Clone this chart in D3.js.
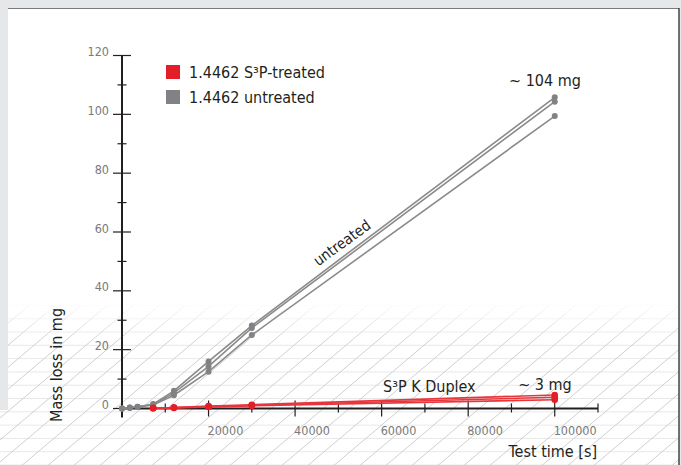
<!DOCTYPE html>
<html>
<head>
<meta charset="utf-8">
<script src="https://cdn.jsdelivr.net/npm/d3@7"></script>
<style>
  body { margin: 0; background: #e6e7e8; }
  svg { display: block; }
  text { font-family: "Liberation Sans Narrow", "DejaVu Sans Condensed", "Roboto Condensed", sans-serif; font-stretch: condensed; }
</style>
</head>
<body>
<div id="chart"></div>
<script>
// test times in seconds
const timesUntreated = [0, 1800, 3600, 7200, 12000, 20000, 30000, 100000];
const timesTreated = [7200, 12000, 20000, 30000, 100000];

// mass loss in mg, three samples each
const untreated = [
  [0, 0.3, 0.6, 1.5, 6.0, 16.0, 28.2, 105.8],
  [0, 0.3, 0.6, 1.3, 5.3, 14.3, 27.4, 104.3],
  [0, 0.2, 0.5, 1.2, 4.5, 12.5, 25.0, 99.4]
];
const treated = [
  [0.2, 0.3, 0.8, 1.3, 4.6],
  [0.1, 0.3, 0.6, 1.1, 3.8],
  [0.1, 0.2, 0.5, 0.9, 3.0]
];

const xTickLabels = [20000, 40000, 60000, 80000, 100000];
const yTickLabels = [0, 20, 40, 60, 80, 100, 120];
const legendItems = [
  { label: '1.4462 S³P-treated', color: '#e41e26' },
  { label: '1.4462 untreated', color: '#808285' }
];

const W = 681, H = 465;
const svg = d3.select('#chart').append('svg')
  .attr('width', W).attr('height', H);

const defs = svg.append('defs');

// hatch pattern for the lower part of the panel
const pat = defs.append('pattern')
  .attr('id', 'hatch')
  .attr('patternUnits', 'userSpaceOnUse')
  .attr('width', 26).attr('height', 13.3);
pat.append('line')
  .attr('x1', 0).attr('y1', 13.3).attr('x2', 26).attr('y2', 13.3)
  .attr('stroke', '#d2d2d2').attr('stroke-width', 1);
const diag = defs.append('pattern')
  .attr('id', 'diag')
  .attr('patternUnits', 'userSpaceOnUse')
  .attr('width', 26).attr('height', 22);
diag.append('line')
  .attr('x1', -1).attr('y1', 22.85).attr('x2', 27).attr('y2', -0.85)
  .attr('stroke', '#cfcfcf').attr('stroke-width', 1);

const fade = defs.append('linearGradient')
  .attr('id', 'fade').attr('x1', 0).attr('y1', 0).attr('x2', 0).attr('y2', 1);
fade.append('stop').attr('offset', '0%').attr('stop-color', '#fff').attr('stop-opacity', 0);
fade.append('stop').attr('offset', '25%').attr('stop-color', '#fff').attr('stop-opacity', 1);
fade.append('stop').attr('offset', '100%').attr('stop-color', '#fff').attr('stop-opacity', 1);
defs.append('mask').attr('id', 'fadeMask')
  .append('rect').attr('x', 0).attr('y', 300).attr('width', W).attr('height', H - 300)
  .attr('fill', 'url(#fade)');

// panel
svg.append('rect').attr('x', 8).attr('y', 8).attr('width', 671).attr('height', H - 8).attr('fill', '#fff');
svg.append('rect').attr('x', 0).attr('y', 410).attr('width', 8).attr('height', H - 410).attr('fill', '#fff');
const hatchG = svg.append('g').attr('mask', 'url(#fadeMask)');
hatchG.append('rect').attr('x', 0).attr('y', 305).attr('width', 679).attr('height', H - 305).attr('fill', 'url(#hatch)');
hatchG.append('rect').attr('x', 0).attr('y', 305).attr('width', 679).attr('height', H - 305).attr('fill', 'url(#diag)');
svg.append('rect').attr('x', 0).attr('y', 0).attr('width', 8).attr('height', 410).attr('fill', '#e6e7e8');
svg.append('line').attr('x1', 8).attr('y1', 8.5).attr('x2', 679).attr('y2', 8.5).attr('stroke', '#7a7a7a').attr('stroke-width', 1.2);
svg.append('line').attr('x1', 679).attr('y1', 8).attr('x2', 679).attr('y2', H).attr('stroke', '#444').attr('stroke-width', 1.5);

const x = d3.scaleLinear().domain([0, 110000]).range([122, 598]);
const y = d3.scaleLinear().domain([0, 120]).range([408.5, 55.5]);

const axisColor = '#231f20';
const labelFont = 12.5;

// y axis
const yAxis = svg.append('g');
yAxis.append('line').attr('x1', x(0)).attr('x2', x(0)).attr('y1', y(120)).attr('y2', y(0) + 9)
  .attr('stroke', axisColor).attr('stroke-width', 2);
yAxis.selectAll('line.minor').data(d3.range(10, 120, 20)).enter().append('line')
  .attr('x1', x(0) - 4.5).attr('x2', x(0) + 4.5)
  .attr('y1', d => y(d)).attr('y2', d => y(d))
  .attr('stroke', axisColor).attr('stroke-width', 1.2);
yAxis.selectAll('line.major').data(yTickLabels).enter().append('line')
  .attr('x1', x(0) - 9).attr('x2', x(0) + 9)
  .attr('y1', d => y(d)).attr('y2', d => y(d))
  .attr('stroke', axisColor).attr('stroke-width', 1.2);
yAxis.selectAll('text').data(yTickLabels).enter().append('text')
  .attr('x', 109).attr('y', d => y(d) + 0.5)
  .attr('text-anchor', 'end')
  .attr('fill', '#7a7a7a').attr('font-size', labelFont)
  .text(d => d);

// x axis
const xAxis = svg.append('g');
xAxis.append('line').attr('x1', x(0)).attr('x2', x(110000)).attr('y1', y(0)).attr('y2', y(0))
  .attr('stroke', axisColor).attr('stroke-width', 2.2);
xAxis.selectAll('line.minor').data(d3.range(10000, 120000, 20000)).enter().append('line')
  .attr('x1', d => x(d)).attr('x2', d => x(d))
  .attr('y1', y(0) - 5).attr('y2', y(0) + 4)
  .attr('stroke', axisColor).attr('stroke-width', 1.2);
xAxis.selectAll('line.major').data(xTickLabels).enter().append('line')
  .attr('x1', d => x(d)).attr('x2', d => x(d))
  .attr('y1', y(0) - 8).attr('y2', y(0) + 8)
  .attr('stroke', axisColor).attr('stroke-width', 1.2);
xAxis.selectAll('text').data(xTickLabels).enter().append('text')
  .attr('x', d => x(d) - 1).attr('y', 435)
  .attr('fill', '#7a7a7a').attr('font-size', labelFont)
  .text(d => d);

// axis titles
svg.append('text')
  .attr('transform', 'translate(62,365) rotate(-90)')
  .attr('text-anchor', 'middle')
  .attr('fill', '#231f20').attr('font-size', 16)
  .text('Mass loss in mg');
svg.append('text')
  .attr('x', 597).attr('y', 457)
  .attr('text-anchor', 'end')
  .attr('fill', '#231f20').attr('font-size', 16)
  .text('Test time [s]');

// series
const line = d3.line();
function drawSeries(times, series, color, lineColor, r) {
  const g = svg.append('g');
  series.forEach(vals => {
    const pts = vals.map((v, i) => [x(times[i]), y(v)]);
    g.append('path').attr('d', line(pts))
      .attr('fill', 'none').attr('stroke', lineColor).attr('stroke-width', 1.6);
  });
  series.forEach(vals => {
    g.selectAll(null).data(vals).enter().append('circle')
      .attr('cx', (v, i) => x(times[i])).attr('cy', v => y(v))
      .attr('r', r).attr('fill', color);
  });
}
drawSeries(timesUntreated, untreated, '#808285', '#8a8a8a', 3);
drawSeries(timesTreated, treated, '#e41e26', '#e8353c', 3.3);

// annotations
svg.append('text')
  .attr('transform', 'translate(345,247) rotate(-36)')
  .attr('text-anchor', 'middle')
  .attr('fill', '#231f20').attr('font-size', 15)
  .text('untreated');
svg.append('text')
  .attr('x', 383).attr('y', 392)
  .attr('fill', '#231f20').attr('font-size', 16)
  .text('S³P K Duplex');
svg.append('text')
  .attr('x', 545).attr('y', 390)
  .attr('text-anchor', 'middle')
  .attr('fill', '#231f20').attr('font-size', 16)
  .text('~ 3 mg');
svg.append('text')
  .attr('x', 545).attr('y', 86)
  .attr('text-anchor', 'middle')
  .attr('fill', '#231f20').attr('font-size', 16)
  .text('~ 104 mg');

// legend
const legend = svg.append('g');
legendItems.forEach((d, i) => {
  legend.append('rect')
    .attr('x', 166).attr('y', 65 + i * 25).attr('width', 14).attr('height', 14)
    .attr('fill', d.color);
  legend.append('text')
    .attr('x', 189).attr('y', 78 + i * 25)
    .attr('fill', '#231f20').attr('font-size', 16)
    .text(d.label);
});
</script>
</body>
</html>
